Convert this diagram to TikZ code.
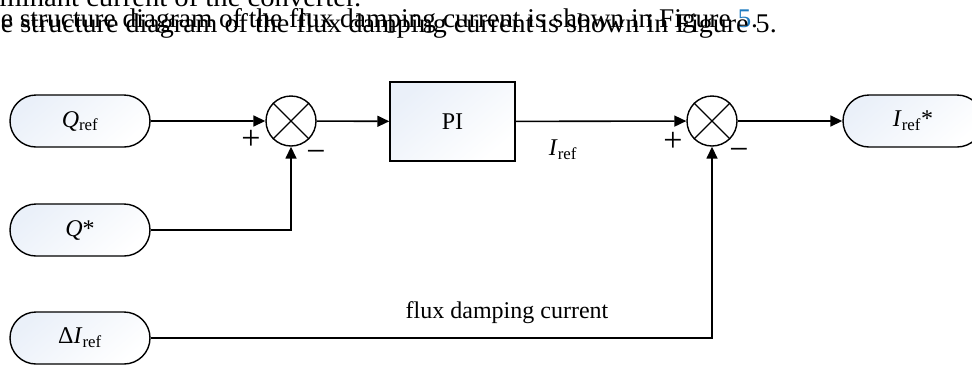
\documentclass[tikz,border=0pt]{standalone}
\usepackage{fontspec}
\setmainfont{Liberation Serif}
\usetikzlibrary{arrows.meta,shapes.misc}
\definecolor{linkblue}{HTML}{1F7CC1}
\definecolor{pillfill}{HTML}{EAF0F9}
\begin{document}
\begin{tikzpicture}[x=1pt,y=-1pt,
  line width=1.6pt,
  every node/.style={font=\fontsize{24}{28}\selectfont},
  pill/.style={draw, line width=1.4pt, rounded rectangle, minimum width=140pt, minimum height=52pt, inner sep=0pt,
    top color=pillfill, bottom color=white, shading angle=40},
  sumj/.style={draw, line width=1.4pt, circle, minimum size=50pt, inner sep=0pt, fill=white},
  blockbox/.style={draw, line width=1.4pt, rectangle, minimum width=125pt, minimum height=79pt, inner sep=0pt,
    top color=pillfill, bottom color=white, shading angle=40},
  arr/.style={-{Triangle[length=12pt,width=11pt]}},
  sign/.style={font=\fontsize{34}{36}\selectfont, inner sep=0pt},
  toptext/.style={font=\fontsize{27}{30}\selectfont, inner sep=0pt}
]
\useasboundingbox (0,0) rectangle (972,365);
\clip (0,0) rectangle (972,365);

% text of the page above the figure
\node[toptext, anchor=base east] (t0) at (362,6) {\scalebox{1.06}[1]{dominant current of the converter.}};
\node[toptext, anchor=base west] (t1) at (0,27) {\scalebox{1.015}[1]{e structure diagram of the flux damping current is shown in Figure \textcolor{linkblue}{5}.}};
\node[toptext, anchor=base west] (t2) at (0,32) {\scalebox{1.04}[1]{e structure diagram of the flux damping current is shown in Figure 5.}};

% nodes
\node[pill] (qref) at (80,121) {\textit{Q}\textsubscript{ref}};
\node[pill] (qstar) at (80,230) {\textit{Q}*};
\node[pill] (dI) at (80,338) {Δ\textit{I}\textsubscript{ref}};
\node[sumj] (s1) at (291,121) {};
\node[blockbox] (pi) at (452.5,121.5) {PI};
\node[sumj] (s2) at (712,121) {};
\node[pill] (iout) at (913,121) {\textit{I}\textsubscript{ref}*};

% crosses in the summing junctions
\draw[line width=1.2pt] (s1.north west) -- (s1.south east) (s1.north east) -- (s1.south west);
\draw[line width=1.2pt] (s2.north west) -- (s2.south east) (s2.north east) -- (s2.south west);

% connectors
\draw[arr] (qref) -- (s1);
\draw[arr] (s1) -- (pi);
\draw[arr] (pi) -- (s2);
\draw[arr] (s2) -- (iout);
\draw[arr] (qstar) -| (s1);
\draw[arr] (dI) -| (s2);

% labels
\node[sign] (p1) at (251,140) {+};
\node[sign] (m1) at (316,156) {−};
\node[sign] (p2) at (673,142) {+};
\node[sign] (m2) at (739,154) {−};
\node (lbl) at (563,150) {\textit{I}\textsubscript{ref}};
\node[anchor=base] (flux) at (507,318) {flux damping current};
\end{tikzpicture}
\end{document}
